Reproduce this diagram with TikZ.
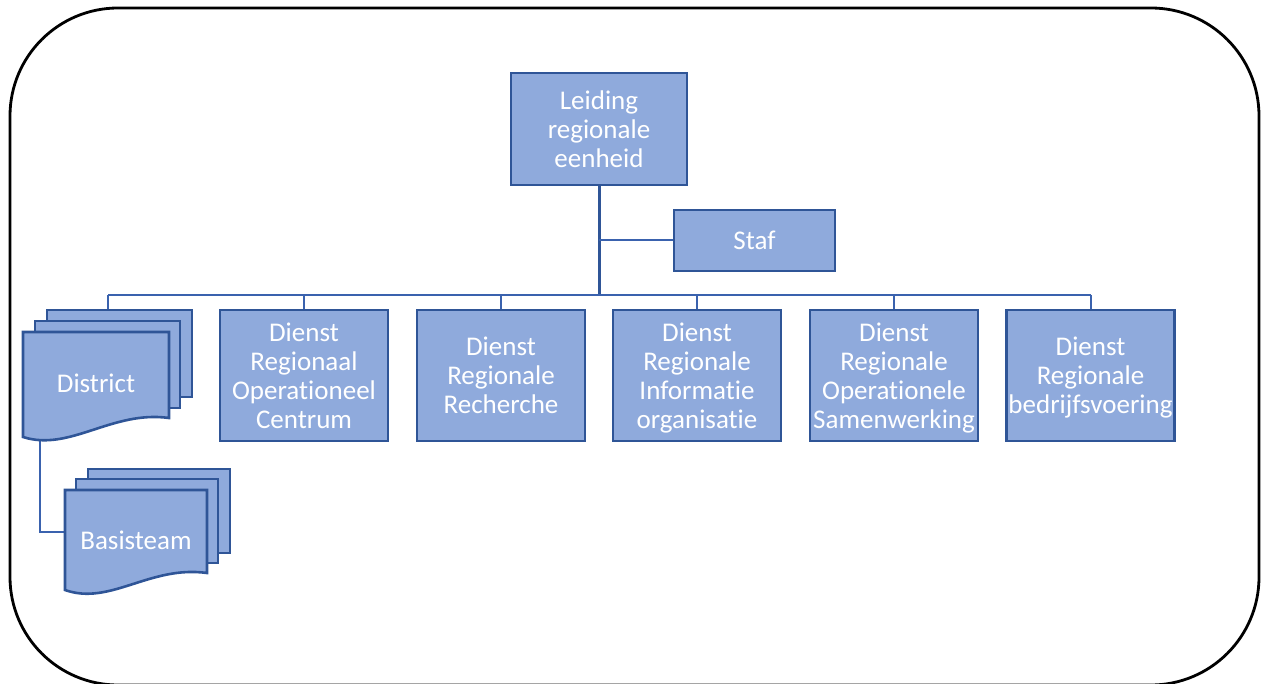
\documentclass[tikz,border=0pt]{standalone}
\usepackage{fontspec}
\setmainfont{Carlito}[Ligatures=NoCommon]
\definecolor{boxfill}{HTML}{8FAADC}
\definecolor{boxline}{HTML}{2F5597}
\definecolor{wirecol}{HTML}{3A62AE}
\begin{document}
\begin{tikzpicture}[x=1pt,y=-1pt,
  box/.style={draw=boxline, fill=boxfill, line width=2.6pt, text=white,
    align=center, inner sep=0pt, text depth=0pt, font=\fontsize{27}{29}\selectfont},
  unit/.style={box, minimum width=168pt, minimum height=131pt},
  sheet/.style={draw=boxline, fill=boxfill, line width=2.6pt, inner sep=0pt},
  label/.style={text=white, inner sep=0pt, font=\fontsize{27}{29}\selectfont},
  wire/.style={draw=wirecol, line width=2pt},
  ]
\useasboundingbox (0,0) rectangle (1263,684);

% outer frame
\draw[line width=2.8pt, rounded corners=108pt] (10,8) rectangle (1259,685);

% coordinates of the connector network
\coordinate (bus) at (599,295);
\coordinate (dtail) at (40,432);
\coordinate (bjoin) at (70,532);

% connectors (drawn first, boxes sit on top)
\draw[wire, draw=boxline, line width=3pt] (599,185) -- (bus);
\draw[wire] (599,240) -- (674,240);
\draw[wire] (108,295) -- (1091,295);
\foreach \x in {108,304,501,697,894,1091}
  \draw[wire] (\x,295) -- (\x,311);
\draw[wire] (dtail) |- (bjoin);

% top of the organisation
\node[box, minimum width=176pt, minimum height=112pt] (leiding) at (599,129)
  {Leiding\\regionale\\eenheid};
\node[box, minimum width=161pt, minimum height=61pt] (staf) at (754.5,240.5) {Staf};

% departments
\node[unit] (d1) at (304,375.5) {Dienst\\Regionaal\\Operationeel\\Centrum};
\node[unit] (d2) at (501,375.5) {Dienst\\Regionale\\Recherche};
\node[unit] (d3) at (697,375.5) {Dienst\\Regionale\\Informatie\\organisatie};
\node[unit] (d4) at (894,375.5) {Dienst\\Regionale\\Operationele\\Samenwerking};
\node[unit] (d5) at (1090.5,375.5) {Dienst\\Regionale\\bedrijfsvoering};

% district: stacked documents
\node[sheet, minimum width=145pt, minimum height=87pt] (dist3) at (119.5,353.5) {};
\node[sheet, minimum width=145pt, minimum height=87pt] (dist2) at (107.5,364.5) {};
\draw[sheet] (23,332) -- (169,332) -- (169,418)
  .. controls (112,410) and (70,452) .. (23,437) -- cycle;
\node[label] (district) at (96,383) {District};

% basisteam: stacked documents
\node[sheet, minimum width=142pt, minimum height=84pt] (bas3) at (159,511) {};
\node[sheet, minimum width=142pt, minimum height=84pt] (bas2) at (147,521) {};
\draw[sheet] (65,490) -- (207,490) -- (207,573)
  .. controls (150,565) and (110,606) .. (65,590) -- cycle;
\node[label] (basisteam) at (136,540) {Basisteam};
\end{tikzpicture}
\end{document}
